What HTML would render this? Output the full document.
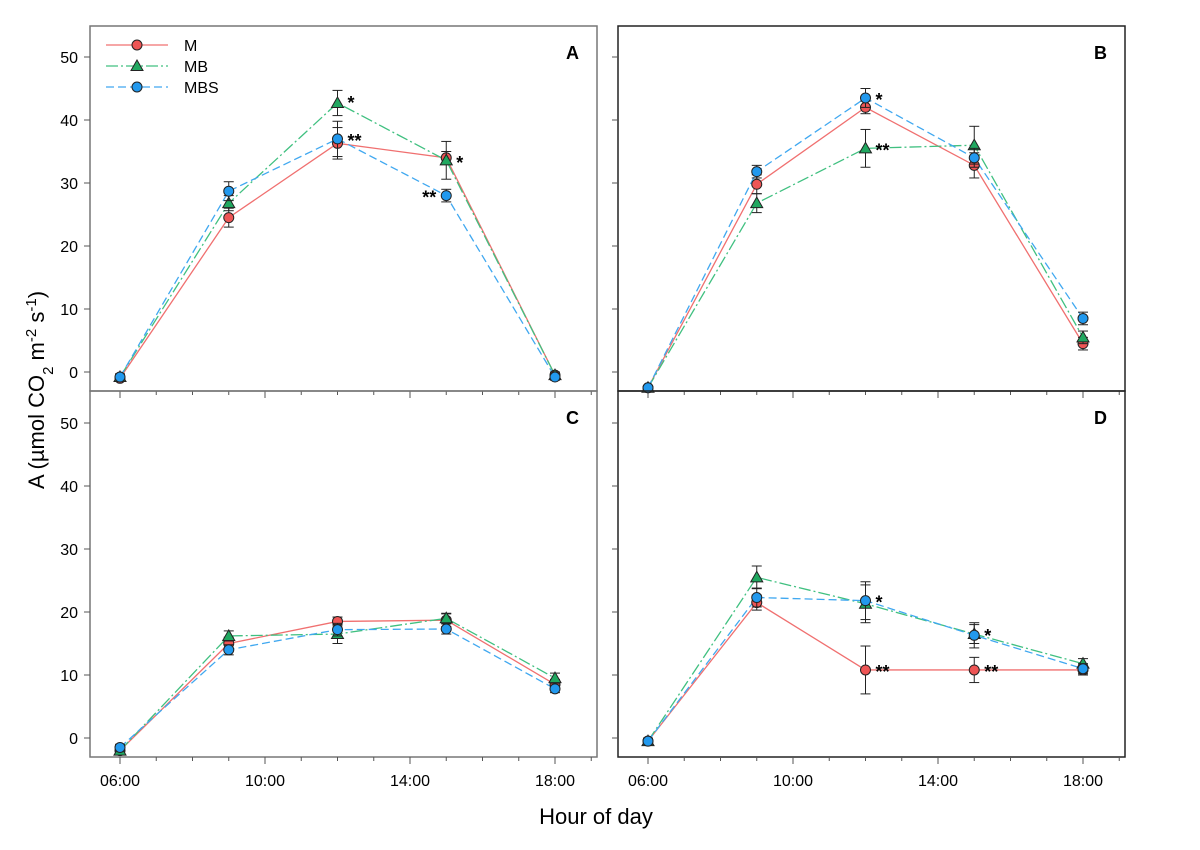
<!DOCTYPE html>
<html><head><meta charset="utf-8"><style>
body{margin:0;background:#fff;}
svg{display:block;font-family:"Liberation Sans",Arial,sans-serif;}
</style></head><body>
<svg id="chart" width="1200" height="850" viewBox="0 0 1200 850"></svg>
<script>
const hours = [6, 9, 12, 15, 18];
const seriesNames = ["M", "MB", "MBS"];
const panelLabels = ["A", "B", "C", "D"];
const yTicks = [0, 10, 20, 30, 40, 50];
const xTickLabels = ["06:00", "10:00", "14:00", "18:00"];
const xTickHours = [6, 10, 14, 18];
// values per panel
const A_M = [-1, 24.5, 36.3, 34, -0.5];
const A_MB = [-0.8, 26.8, 42.7, 33.6, -0.5];
const A_MBS = [-0.8, 28.7, 37, 28, -0.8];
const A_err_M = [0.5, 1.5, 2.5, 1, 0.5];
const A_err_MB = [0.5, 1.2, 2, 3, 0.5];
const A_err_MBS = [0.5, 1.5, 2.8, 1, 0.5];
const B_M = [-2.5, 29.8, 42, 32.8, 4.5];
const B_MB = [-2.5, 26.8, 35.5, 36, 5.5];
const B_MBS = [-2.5, 31.8, 43.5, 34, 8.5];
const B_err_M = [0.3, 1.5, 1, 2, 1];
const B_err_MB = [0.3, 1.5, 3, 3, 1];
const B_err_MBS = [0.3, 1, 1.5, 1.5, 1];
const C_M = [-2, 15, 18.5, 18.7, 8.5];
const C_MB = [-2, 16.2, 16.5, 19, 9.5];
const C_MBS = [-1.5, 14, 17.2, 17.3, 7.8];
const C_err_M = [0.5, 1, 0.7, 1, 0.8];
const C_err_MB = [0.5, 0.8, 1.5, 0.8, 0.8];
const C_err_MBS = [0.5, 0.8, 1, 0.8, 0.6];
const D_M = [-0.5, 21.5, 10.8, 10.8, 10.8];
const D_MB = [-0.5, 25.5, 21.3, 16.5, 11.8];
const D_MBS = [-0.5, 22.3, 21.8, 16.3, 11];
const D_err_M = [0.5, 1.2, 3.8, 2, 0.8];
const D_err_MB = [0.5, 1.8, 3, 1.5, 0.8];
const D_err_MBS = [0.5, 1.5, 3, 2, 0.8];
// significance marks: [panel, hourIndex, value, text]
const starPanels = ["A","A","A","A","B","B","D","D","D","D"];
const starIdx = [2, 2, 3, 3, 2, 2, 2, 3, 2, 3];
const starVals = [43, 37, 33.5, 28, 43.5, 35.5, 21.8, 16.5, 10.8, 10.8];
const starText = ["*", "**", "*", "**", "*", "**", "*", "*", "**", "**"];
const starSide = [1, 1, 1, -1, 1, 1, 1, 1, 1, 1];

const data = {A:[A_M,A_MB,A_MBS],B:[B_M,B_MB,B_MBS],C:[C_M,C_MB,C_MBS],D:[D_M,D_MB,D_MBS]};
const errs = {A:[A_err_M,A_err_MB,A_err_MBS],B:[B_err_M,B_err_MB,B_err_MBS],C:[C_err_M,C_err_MB,C_err_MBS],D:[D_err_M,D_err_MB,D_err_MBS]};
const lineCol = ["#f07070", "#40c080", "#40a8f0"];
const fillCol = ["#ee5555", "#20a860", "#2299ee"];
const dash = ["", "12 3 2 3", "8 4"];
const NS = "http://www.w3.org/2000/svg";
const svg = document.getElementById("chart");
function el(t, a, p){const e=document.createElementNS(NS,t);for(const k in a)e.setAttribute(k,a[k]);(p||svg).appendChild(e);return e;}

const panels = {A:{x0:90,x1:597,y0:26,y1:391,zero:372},B:{x0:618,x1:1125,y0:26,y1:391,zero:372},
  C:{x0:90,x1:597,y0:391,y1:757,zero:738},D:{x0:618,x1:1125,y0:391,y1:757,zero:738}};
const pxH = 36.25, pxU = 6.3;
function xs(p,h){return panels[p].x0 + 30 + (h-6)*pxH;}
function ys(p,v){return panels[p].zero - v*pxU;}

panelLabels.forEach((p,pi)=>{
  const P = panels[p];
  const g = el("g",{});
  
  
  el("rect",{x:P.x0,y:P.y0,width:P.x1-P.x0,height:P.y1-P.y0,fill:"none",stroke:(pi%2==0?"#777":"#222"),"stroke-width":1.5},g);
  yTicks.forEach(t=>{const y=ys(p,t); if(y<P.y0)return;
    el("line",{x1:P.x0-6,x2:P.x0,y1:y,y2:y,stroke:"#555"},g);
    if(pi%2==0){const tx=el("text",{x:P.x0-12,y:y+6,"text-anchor":"end","font-size":16},g);tx.textContent=t;
      }
  });
  for(let h=6;h<=19;h++){const x=xs(p,h);const major=xTickHours.includes(h);
    el("line",{x1:x,x2:x,y1:P.y1,y2:P.y1+(major?7:4),stroke:"#555"},g);}
  if(pi>=2) xTickHours.forEach((h,i)=>{const tx=el("text",{x:xs(p,h),y:P.y1+29,"text-anchor":"middle","font-size":16},g);tx.textContent=xTickLabels[i];
    });
  const lb=el("text",{x:P.x1-18,y:P.y0+33,"text-anchor":"end","font-size":18,"font-weight":"bold"},g);lb.textContent=p;
  
  [0,1,2].forEach(s=>{
    const vals=data[p][s], er=errs[p][s];
    const pts=hours.map((h,i)=>xs(p,h)+","+ys(p,vals[i])).join(" ");
    const line=el("polyline",{points:pts,fill:"none",stroke:lineCol[s],"stroke-width":1.3,"stroke-dasharray":dash[s]},g);
    
    
  });
  [0,1,2].forEach(s=>{
    const vals=data[p][s], er=errs[p][s];
    hours.forEach((h,i)=>{const x=xs(p,h),y=ys(p,vals[i]),e=er[i]*pxU;
      el("line",{x1:x,x2:x,y1:y-e,y2:y+e,stroke:"#222"},g);
      el("line",{x1:x-5,x2:x+5,y1:y-e,y2:y-e,stroke:"#222"},g);
      el("line",{x1:x-5,x2:x+5,y1:y+e,y2:y+e,stroke:"#222"},g);
      let m;
      if(s==1) m=el("polygon",{points:`${x},${y-6} ${x-6},${y+4.5} ${x+6},${y+4.5}`,fill:fillCol[s],stroke:"#222"},g);
      else m=el("circle",{cx:x,cy:y,r:5,fill:fillCol[s],stroke:"#222"},g);
      
      
    });
  });
});
starPanels.forEach((p,i)=>{
  const x=xs(p,hours[starIdx[i]])+starSide[i]*10, y=ys(p,starVals[i])+8;
  const t=el("text",{x:x,y:y,"text-anchor":starSide[i]>0?"start":"end","font-size":18,"font-weight":"bold"});
  t.textContent=starText[i];
  
  
});
// legend
const lg=el("g",{});


seriesNames.forEach((n,s)=>{const y=45+s*21;
  el("line",{x1:106,x2:168,y1:y,y2:y,stroke:lineCol[s],"stroke-width":1.3,"stroke-dasharray":dash[s]},lg);
  if(s==1) el("polygon",{points:`137,${y-6} 131,${y+4.5} 143,${y+4.5}`,fill:fillCol[s],stroke:"#222"},lg);
  else el("circle",{cx:137,cy:y,r:5,fill:fillCol[s],stroke:"#222"},lg);
  const t=el("text",{x:184,y:y+6,"font-size":16},lg);t.textContent=n;
  
});
const yt=el("text",{x:0,y:0,"font-size":22,"text-anchor":"middle",transform:"translate(44,390) rotate(-90)"});
yt.innerHTML='A (µmol CO<tspan baseline-shift="sub" font-size="15">2</tspan> m<tspan baseline-shift="super" font-size="15">-2</tspan> s<tspan baseline-shift="super" font-size="15">-1</tspan>)';

const xt=el("text",{x:596,y:824,"font-size":22,"text-anchor":"middle"});xt.textContent="Hour of day";

</script>
</body></html>
